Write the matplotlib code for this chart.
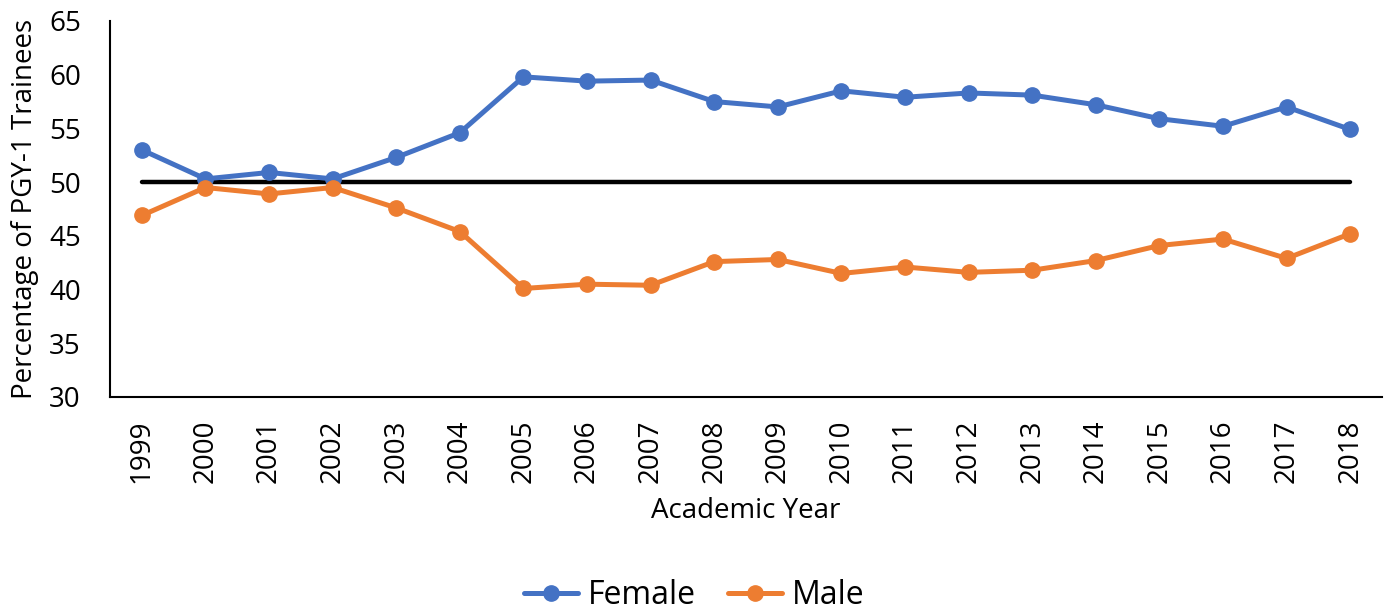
import matplotlib
matplotlib.use("Agg")
import matplotlib.pyplot as plt

plt.rcParams['font.family'] = ['Open Sans', 'DejaVu Sans']

years = [str(y) for y in range(1999, 2019)]
female = [53.0, 50.3, 50.9, 50.3, 52.3, 54.6, 59.8, 59.4, 59.5, 57.5,
          57.0, 58.5, 57.9, 58.3, 58.1, 57.2, 55.9, 55.2, 57.0, 54.9]
male = [46.9, 49.5, 48.9, 49.5, 47.6, 45.4, 40.1, 40.5, 40.4, 42.6,
        42.8, 41.5, 42.1, 41.6, 41.8, 42.7, 44.1, 44.7, 42.9, 45.2]
parity = [50] * len(years)

fig = plt.figure(figsize=(13.88, 6.10), dpi=100)
ax = fig.add_axes([0.0793, 0.3492, 0.9164, 0.6164])

x = list(range(len(years)))
ax.plot(x, female, color='#4472C4', lw=3.6, marker='o', ms=11, label='Female',
        solid_capstyle='round', zorder=3)
ax.plot(x, male, color='#ED7D31', lw=3.6, marker='o', ms=11, label='Male',
        solid_capstyle='round', zorder=3)
ax.plot(x, parity, color='black', lw=3.2, solid_capstyle='round', zorder=2)

ax.set_xlim(-0.5, len(years) - 0.5)
ax.set_ylim(30, 65)
ax.set_yticks(range(30, 66, 5))
ax.set_xticks(x)
ax.set_xticklabels(years, rotation=90)
ax.tick_params(length=0, labelsize=20)
ax.tick_params(axis='y', pad=21)
ax.tick_params(axis='x', pad=16)

for s in ['top', 'right']:
    ax.spines[s].set_visible(False)
for s in ['left', 'bottom']:
    ax.spines[s].set_linewidth(1.5)

ax.set_xlabel('Academic Year', fontsize=20, labelpad=10)
ax.set_ylabel('Percentage of PGY-1 Trainees', fontsize=20, labelpad=7)

handles, labels = ax.get_legend_handles_labels()
fig.legend(handles, labels, loc='lower center', bbox_to_anchor=(0.5, -0.05),
           ncol=2, frameon=False, fontsize=23, handlelength=1.7,
           columnspacing=1.0, handletextpad=0.3)

fig.savefig('out.png', dpi=100)
